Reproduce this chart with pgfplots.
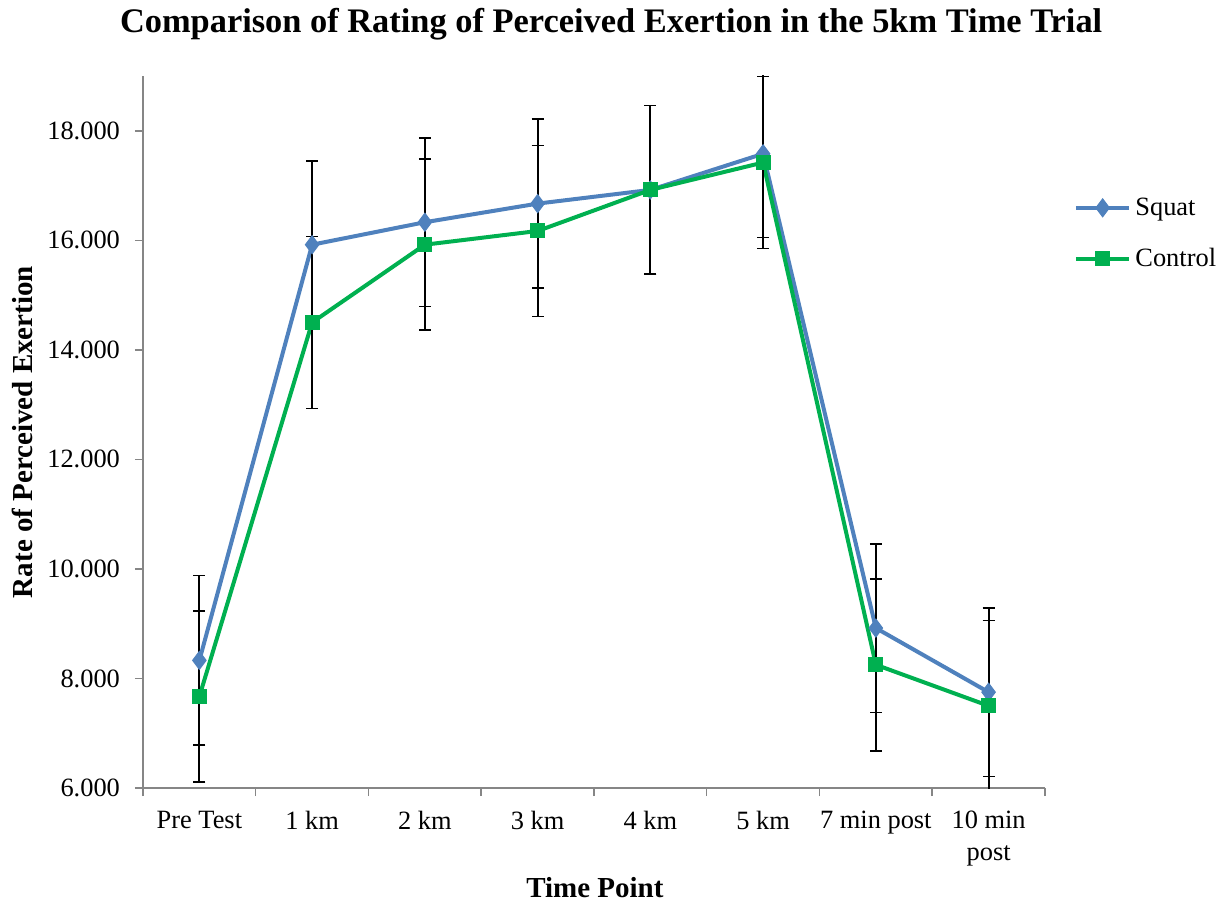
\documentclass[border=0pt]{standalone}
\usepackage{pgfplots}
\pgfplotsset{compat=1.18}
\usepackage{pgfplotstable}
\usepackage{fontspec}
\setmainfont{Liberation Serif}
\definecolor{sq}{HTML}{4F81BD}
\definecolor{ct}{HTML}{00B050}
\definecolor{axc}{HTML}{868686}
\pgfplotstableread{
x y e
0 8.33 1.55
1 15.92 1.53
2 16.33 1.54
3 16.67 1.54
4 16.92 1.54
5 17.58 1.53
6 8.92 1.54
7 7.75 1.54
}\squat
\pgfplotstableread{
x y e
0 7.67 1.56
1 14.50 1.57
2 15.92 1.56
3 16.17 1.56
4 16.92 1.54
5 17.42 1.57
6 8.25 1.57
7 7.50 1.56
}\control
\begin{document}
\begin{tikzpicture}
\begin{axis}[
  scale only axis, width=451pt, height=356pt,
  xmin=-0.5, xmax=7.5, ymin=6, ymax=19,
  axis x line*=bottom, axis y line*=left,
  axis line style={axc, line width=0.75pt},
  xtick={-0.5,0.5,...,7.5},
  x tick label as interval,
  xticklabels={Pre Test,1 km,2 km,3 km,4 km,5 km,7 min post,{10 min\\post}},
  xticklabel style={align=center, yshift=-4pt},
  ytick={6,8,...,18},
  tick align=outside, major tick length=4pt,
  tick style={axc, line width=0.75pt},
  /pgf/number format/assume math mode=true,
  yticklabel style={xshift=-4pt, /pgf/number format/fixed, /pgf/number format/fixed zerofill, /pgf/number format/precision=3},
  ticklabel style={font=\fontsize{13.2}{16}\selectfont},
  title={Comparison of Rating of Perceived Exertion in the 5km Time Trial},
  title style={at={(axis description cs:0.519,1.056)}, anchor=center, font=\bfseries\fontsize{17.2}{20}\selectfont},
  xlabel={Time Point},
  ylabel={Rate of Perceived Exertion},
  xlabel style={at={(axis description cs:0.501,-0.14)}, anchor=center},
  ylabel style={at={(axis description cs:-0.134,0.5)}, anchor=center},
  label style={font=\bfseries\fontsize{14.5}{17}\selectfont},
  legend style={at={(1.025,0.841)}, anchor=north west, draw=none, fill=none, font=\fontsize{13.2}{16}\selectfont, row sep=11pt},
  legend cell align=left,
  legend image code/.code={\draw[mark repeat=2,mark phase=2,#1] plot coordinates {(0cm,0cm)(0.47cm,0cm)(0.94cm,0cm)};},
]
\addplot[sq, line width=2pt, mark=diamond*, mark size=4.5pt, mark options={solid, line width=0.5pt},
  error bars/.cd, y dir=both, y explicit,
  error bar style={black, line width=0.9pt},
  error mark options={rotate=90, black, mark size=3pt, line width=0.9pt}]
  table[x=x, y=y, y error=e] {\squat};
\addlegendentry{Squat}
\addplot[ct, line width=2pt, mark=square*, mark size=3.5pt, mark options={solid, line width=0.5pt},
  error bars/.cd, y dir=both, y explicit,
  error bar style={black, line width=0.9pt},
  error mark options={rotate=90, black, mark size=3pt, line width=0.9pt}]
  table[x=x, y=y, y error=e] {\control};
\addlegendentry{Control}
\end{axis}
\pgfresetboundingbox
\path (-71.5pt,-59pt) rectangle (542.5pt,394pt);
\end{tikzpicture}
\end{document}
